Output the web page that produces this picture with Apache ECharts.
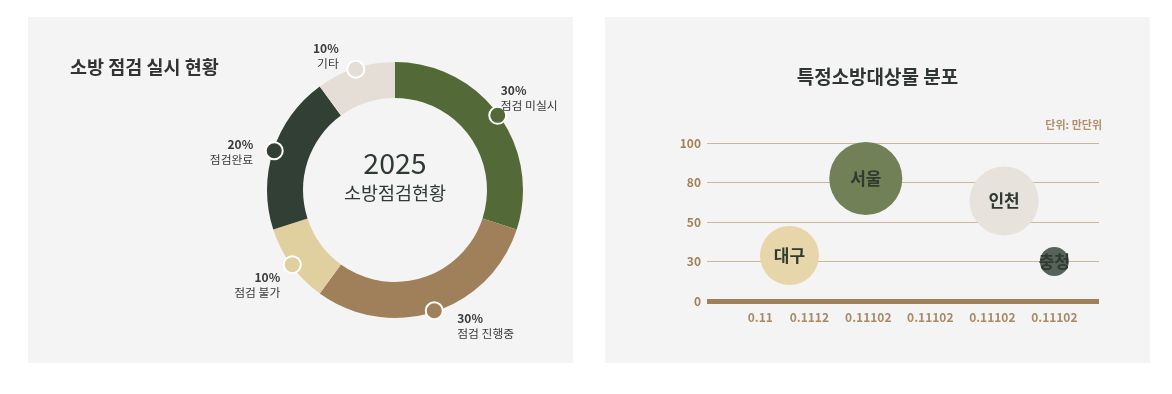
<!DOCTYPE html>
<html>
<head>
<meta charset="utf-8">
<script src="https://cdn.jsdelivr.net/npm/echarts@6/dist/echarts.min.js"></script>
<style>
  html, body { margin: 0; padding: 0; background: #ffffff; width: 1172px; height: 394px; overflow: hidden; }
  .panel { position: absolute; top: 17px; width: 545px; height: 346px; background: #f4f4f4; }
  #left { left: 28px; }
  #right { left: 605px; }
</style>
</head>
<body>
<div id="left" class="panel"></div>
<div id="right" class="panel"></div>
<script>
// ---------- Left: donut data ----------
const pieNames = ['점검 미실시', '점검 진행중', '점검 불가', '점검완료', '기타'];
const pieValues = [30, 30, 10, 20, 10];
const pieColors = ['#536937', '#a0805a', '#e0cf9f', '#313f35', '#e5ded7'];
const centerYear = '2025';
const centerLabel = '소방점검현황';

// ---------- Right: bubble data ----------
const bubbleNames = ['대구', '서울', '인천', '충청'];
const bubbleX = [0.73, 1.96, 4.19, 5.0];
const bubbleY = [33, 82, 66, 30];
const bubbleSize = [59, 73, 69, 29];
const bubbleColors = ['#e6d6a9', '#718056', '#e7e2dc', '#56625a'];
const yTickLabels = ['0', '30', '50', '80', '100'];
const xTickLabels = ['0.11', '0.1112', '0.11102', '0.11102', '0.11102', '0.11102'];
const xTickPos = [0.26, 1.05, 2, 3, 4, 5];

const FONT = '"Noto Sans CJK KR", "Noto Sans", sans-serif';

// ----- left chart -----
const left = echarts.init(document.getElementById('left'), null, { renderer: 'canvas' });
const total = pieValues.reduce((a, b) => a + b, 0);
let cum = 0;
const mids = pieValues.map(v => { const m = cum + v / 2; cum += v; return m / total * 100; });

// label placement per dot: [offsetX, offsetY, align, verticalAlign]
const labelPlace = [
  [3, -2, 'left', 'bottom'],
  [23, 0, 'left', 'top'],
  [-12, 5, 'right', 'top'],
  [-21, -14, 'right', 'top'],
  [-17, -28, 'right', 'top']
];

const CX = 367, CY = 173, R_OUT = 128, R_IN = 92;

left.setOption({
  animation: false,
  textStyle: { fontFamily: FONT },
  title: {
    text: '소방 점검 실시 현황',
    left: 37, top: 36,
    textStyle: { fontFamily: FONT, fontSize: 18.5, fontWeight: 'bold', color: '#333' }
  },
  polar: { center: [CX, CY], radius: R_OUT },
  angleAxis: { type: 'value', min: 0, max: 100, startAngle: 90, clockwise: true, show: false },
  radiusAxis: { type: 'value', min: 0, max: R_OUT, show: false },
  series: [
    {
      type: 'pie',
      center: [CX, CY],
      radius: [R_IN, R_OUT],
      startAngle: 90,
      clockwise: true,
      label: { show: false },
      labelLine: { show: false },
      silent: true,
      data: pieNames.map((n, i) => ({ name: n, value: pieValues[i], itemStyle: { color: pieColors[i] } }))
    },
    {
      type: 'scatter',
      coordinateSystem: 'polar',
      symbol: 'circle',
      symbolSize: 17,
      z: 5,
      silent: true,
      data: pieNames.map((n, i) => ({
        value: [R_OUT - 1, mids[i]],
        itemStyle: { color: pieColors[i], borderColor: '#ffffff', borderWidth: 2, opacity: 1 },
        label: {
          show: true,
          position: 'inside',
          offset: [labelPlace[i][0], labelPlace[i][1]],
          align: labelPlace[i][2],
          verticalAlign: labelPlace[i][3],
          lineHeight: 15,
          formatter: '{p|' + Math.round(pieValues[i] / total * 100) + '%}\n{n|' + n + '}',
          rich: {
            p: { fontFamily: FONT, fontSize: 12, fontWeight: 'bold', color: '#3a3a3a', lineHeight: 15, align: labelPlace[i][2] },
            n: { fontFamily: FONT, fontSize: 11.8, color: '#3a3a3a', lineHeight: 15, align: labelPlace[i][2] }
          }
        }
      }))
    }
  ],
  graphic: [
    {
      type: 'text', silent: true,
      style: { text: centerYear, x: CX, y: CY - 27, align: 'center', verticalAlign: 'middle', fontFamily: FONT, fontSize: 28.5, fill: '#2f3a33' }
    },
    {
      type: 'text', silent: true,
      style: { text: centerLabel, x: CX, y: CY + 3, align: 'center', verticalAlign: 'middle', fontFamily: FONT, fontSize: 18.5, fill: '#2f3a33' }
    }
  ]
});

// ----- right chart -----
const right = echarts.init(document.getElementById('right'), null, { renderer: 'canvas' });
// piecewise-linear map from real y value to evenly spaced tick index
const yTickVals = yTickLabels.map(Number);
function yToIdx(v) {
  for (let i = 0; i < yTickVals.length - 1; i++) {
    const a = yTickVals[i], b = yTickVals[i + 1];
    if (v >= a && v <= b) return i + (v - a) / (b - a);
  }
  return yTickVals.length - 1;
}

right.setOption({
  animation: false,
  textStyle: { fontFamily: FONT },
  title: [
    {
      text: '특정소방대상물 분포',
      left: 'center', top: 45,
      textStyle: { fontFamily: FONT, fontSize: 19, fontWeight: 'bold', color: '#2f3632' }
    },
    {
      text: '단위: 만단위',
      right: 43, top: 97,
      textStyle: { fontFamily: FONT, fontSize: 11, fontWeight: 'bold', color: '#b0926f' }
    }
  ],
  grid: { left: 102, right: 51, top: 126, bottom: 62 },
  xAxis: {
    type: 'value',
    min: -0.6, max: 5.72,
    axisLine: { show: true, onZero: false, lineStyle: { color: '#a0805a', width: 5, cap: 'butt' } },
    axisTick: { show: false },
    splitLine: { show: false },
    axisLabel: {
      customValues: xTickPos,
      margin: 10,
      fontFamily: FONT, fontSize: 12, fontWeight: 'bold', color: '#a98a66',
      formatter: v => { const k = xTickPos.indexOf(v); return k >= 0 ? xTickLabels[k] : ''; }
    }
  },
  yAxis: {
    type: 'value',
    min: 0, max: yTickLabels.length - 1, interval: 1,
    axisLine: { show: false },
    axisTick: { show: false },
    splitLine: { show: true, lineStyle: { color: '#c9b69c', width: 1 } },
    axisLabel: {
      margin: 6,
      fontFamily: FONT, fontSize: 12, fontWeight: 'bold', color: '#a0805a',
      formatter: v => yTickLabels[Math.round(v)]
    }
  },
  series: [{
    type: 'scatter',
    silent: true,
    data: bubbleNames.map((n, i) => ({
      name: n,
      value: [bubbleX[i], yToIdx(bubbleY[i]), bubbleSize[i]],
      symbolSize: bubbleSize[i],
      itemStyle: { color: bubbleColors[i], opacity: 1 }
    })),
    label: {
      show: true,
      position: 'inside',
      formatter: p => p.name,
      fontFamily: FONT, fontSize: 17, fontWeight: 'bold', color: '#2f3a30'
    }
  }]
});
</script>
</body>
</html>
